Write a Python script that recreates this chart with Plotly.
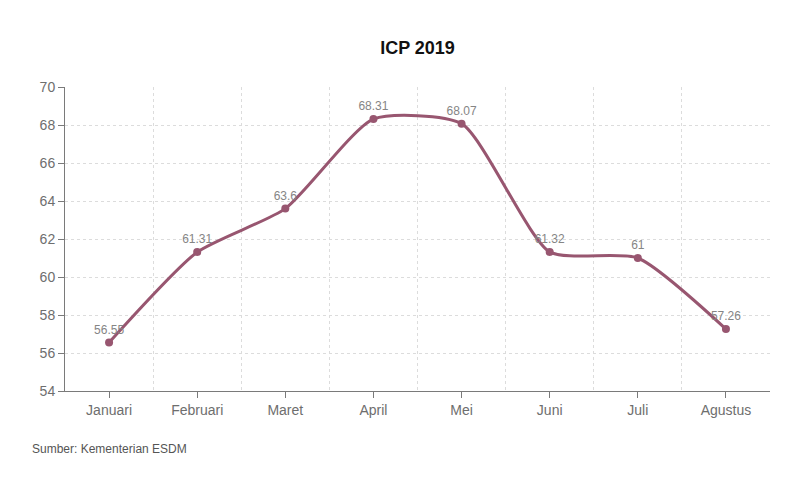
import plotly.graph_objects as go

months = ["Januari", "Februari", "Maret", "April", "Mei", "Juni", "Juli", "Agustus"]
icp = [56.55, 61.31, 63.6, 68.31, 68.07, 61.32, 61, 57.26]
labels = ["56.55", "61.31", "63.6", "68.31", "68.07", "61.32", "61", "57.26"]

line_color = "#985670"
axis_color = "#7a7a7a"
grid_color = "#dcdcdc"
font_fam = "Liberation Sans, Arial, sans-serif"

fig = go.Figure()
fig.add_trace(go.Scatter(
    x=months, y=icp, mode="lines+markers+text",
    line=dict(color=line_color, width=3, shape="spline", smoothing=0.6),
    marker=dict(color=line_color, size=8),
    text=labels, textposition="top center",
    textfont=dict(size=12, color="#858585", family=font_fam),
    cliponaxis=False, showlegend=False,
))
# invisible trace for tick marks at category centres
fig.add_trace(go.Scatter(x=months, y=icp, xaxis="x2", mode="none",
                         showlegend=False, hoverinfo="skip"))

fig.update_layout(
    width=800, height=500,
    paper_bgcolor="white", plot_bgcolor="white",
    margin=dict(l=57, r=38, t=79, b=117),
    title=dict(text="<b>ICP 2019</b>", x=0.5, xref="paper", y=0.92, yanchor="middle",
               font=dict(size=18, color="#111", family=font_fam)),
    font=dict(family=font_fam),
    xaxis=dict(type="category", tickson="boundaries", showgrid=True,
               gridcolor=grid_color, griddash="3px,3px", gridwidth=1,
               ticks="", showticklabels=False, showline=False,
               range=[-0.5, 7.5], zeroline=False),
    xaxis2=dict(type="category", overlaying="x", side="bottom",
                range=[-0.5, 7.5], showgrid=False, ticks="outside",
                ticklen=6, tickcolor=axis_color, showline=True,
                linecolor=axis_color, linewidth=1,
                tickfont=dict(size=14, color="#6e6e6e", family=font_fam)),
    yaxis=dict(range=[54, 70], dtick=2, tick0=54, showgrid=True,
               gridcolor=grid_color, griddash="3px,3px", gridwidth=1,
               ticks="outside", ticklen=6, tickcolor=axis_color,
               showline=True, linecolor=axis_color, linewidth=1,
               zeroline=False,
               tickfont=dict(size=14, color="#6e6e6e", family=font_fam)),
    annotations=[dict(text="Sumber: Kementerian ESDM", xref="paper", yref="paper",
                      x=-0.0496, y=-0.191, xanchor="left", yanchor="middle",
                      showarrow=False,
                      font=dict(size=12, color="#555", family=font_fam))],
)

fig.write_html("out.html")
